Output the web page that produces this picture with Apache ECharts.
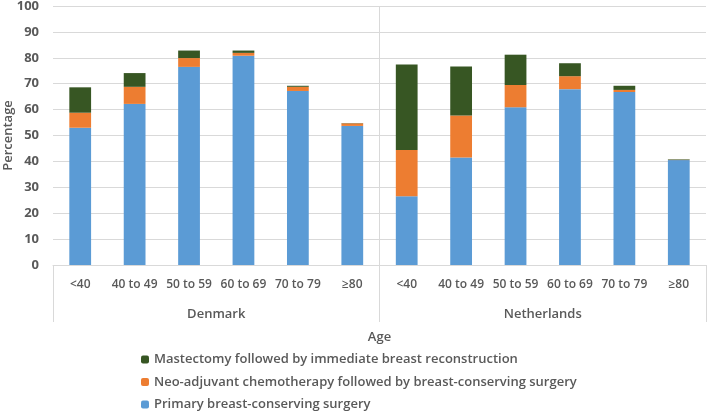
<!DOCTYPE html>
<html><head><meta charset="utf-8">
<script src="https://cdn.jsdelivr.net/npm/echarts@6/dist/echarts.min.js"></script>
<style>html,body{margin:0;padding:0;background:#fff}#c{width:708px;height:412px}</style>
</head><body><div id="c"></div>
<script>
const ageGroups = ['<40','40 to 49','50 to 59','60 to 69','70 to 79','≥80','<40','40 to 49','50 to 59','60 to 69','70 to 79','≥80'];
const countries = ['Denmark','Netherlands'];
const seriesNames = ['Primary breast-conserving surgery','Neo-adjuvant chemotherapy followed by breast-conserving surgery','Mastectomy followed by immediate breast reconstruction'];
const primaryBCS = [53.0, 62.2, 76.5, 80.8, 67.2, 53.7, 26.5, 41.5, 60.9, 67.9, 66.8, 40.5];
const neoAdjuvantBCS = [5.8, 6.6, 3.4, 1.1, 1.6, 1.0, 17.9, 16.2, 8.6, 5.0, 0.8, 0.1];
const mastectomyIBR = [9.8, 5.3, 2.9, 0.9, 0.4, 0.1, 33.0, 18.9, 11.7, 5.0, 1.6, 0.2];
const yTicks = [0,10,20,30,40,50,60,70,80,90,100];

const FONT = '"Open Sans","Noto Sans",sans-serif';
const TXT = '#595959';
const chart = echarts.init(document.getElementById('c'), null, {renderer:'canvas'});
chart.setOption({
  animation:false,
  textStyle:{fontFamily:FONT},
  grid:{left:53,right:2,top:6,bottom:147,containLabel:false,outerBoundsMode:'none'},
  legend:{
    orient:'vertical', left:141, top:353, padding:0, itemWidth:8, itemHeight:8, itemGap:9.5,
    data:[seriesNames[2],seriesNames[1],seriesNames[0]],
    textStyle:{fontFamily:FONT,fontSize:13,fontWeight:600,color:TXT,padding:[0,0,0,0]}
  },
  xAxis:[{
    type:'category', data:ageGroups, position:'bottom',
    axisLine:{show:true,lineStyle:{color:'#d9d9d9'}},
    axisTick:{show:false},
    axisLabel:{interval:0,margin:14,fontSize:12,fontWeight:600,color:TXT,fontFamily:FONT},
    splitLine:{show:false}
  },{
    type:'category', data:countries, position:'bottom', gridIndex:0,
    axisLine:{show:false},
    axisTick:{show:true,length:57,lineStyle:{color:'#d9d9d9'}},
    axisLabel:{interval:0,margin:43,fontSize:13,fontWeight:600,color:TXT,fontFamily:FONT},
    splitLine:{show:true,showMinLine:false,showMaxLine:false,lineStyle:{color:'#d9d9d9'}},
    name:'Age', nameLocation:'middle', nameGap:66, nameMoveOverlap:false,
    nameTextStyle:{fontSize:13,color:TXT,fontWeight:600,fontFamily:FONT}
  }],
  yAxis:{
    type:'value', min:0, max:100, interval:10,
    axisLine:{show:false}, axisTick:{show:false},
    axisLabel:{fontSize:13,fontWeight:'bold',color:TXT,margin:14,fontFamily:FONT,
      formatter:v=>yTicks.includes(v)?String(v):''},
    splitLine:{lineStyle:{color:'#d9d9d9'}},
    name:'Percentage', nameLocation:'middle', nameGap:38, nameRotate:90, nameMoveOverlap:false,
    nameTextStyle:{fontSize:13,color:TXT,fontWeight:600,fontFamily:FONT}
  },
  series:[
    {name:seriesNames[0],type:'bar',stack:'s',xAxisIndex:0,barWidth:'40%',data:primaryBCS,itemStyle:{color:'#5B9BD5'}},
    {name:seriesNames[1],type:'bar',stack:'s',xAxisIndex:0,data:neoAdjuvantBCS,itemStyle:{color:'#ED7D31'}},
    {name:seriesNames[2],type:'bar',stack:'s',xAxisIndex:0,data:mastectomyIBR,itemStyle:{color:'#375623'}}
  ]
});
</script></body></html>
